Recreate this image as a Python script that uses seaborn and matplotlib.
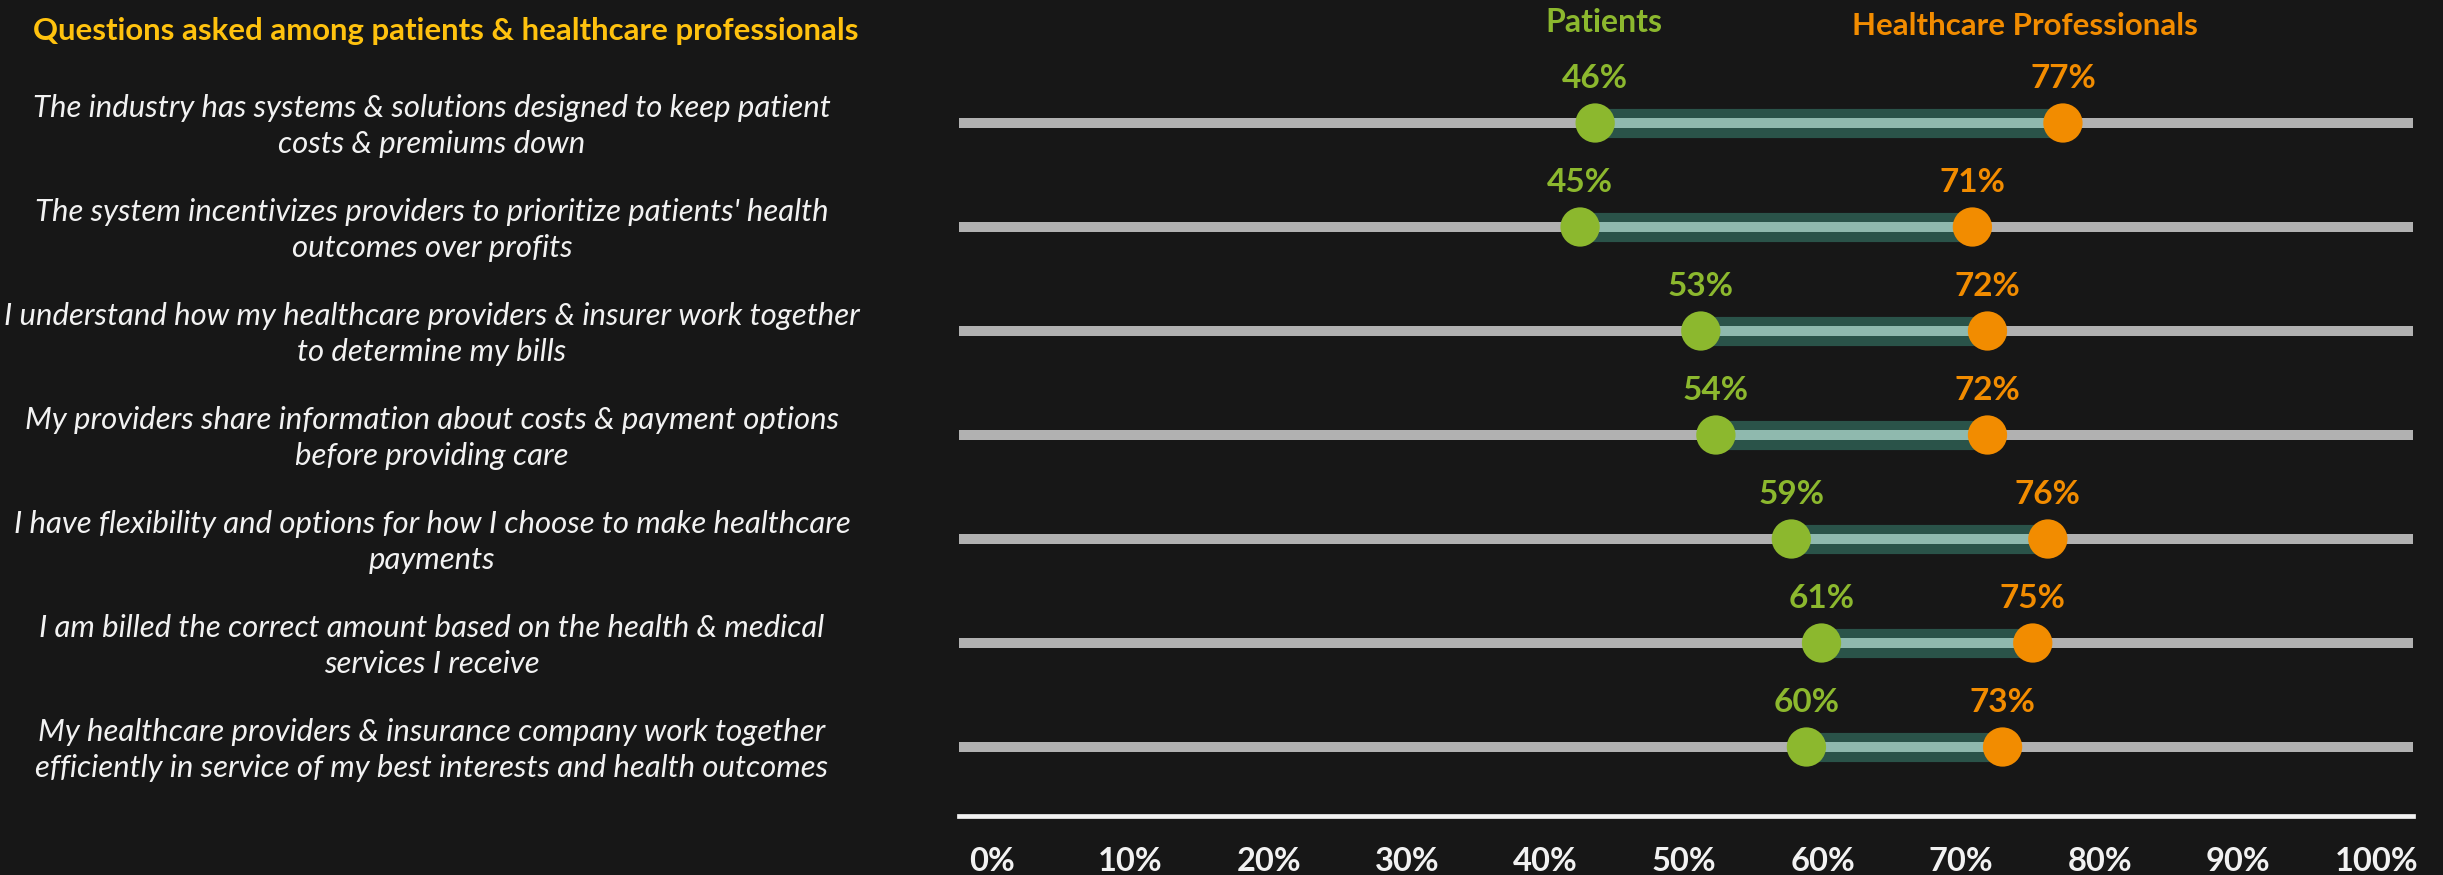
import matplotlib
matplotlib.use("Agg")
import matplotlib.pyplot as plt
import matplotlib.transforms as mtransforms
import numpy as np
import pandas as pd
import seaborn as sns

# ---- data -------------------------------------------------------------
questions = [
    "The industry has systems & solutions designed to keep patient\ncosts & premiums down",
    "The system incentivizes providers to prioritize patients' health\noutcomes over profits",
    "I understand how my healthcare providers & insurer work together\nto determine my bills",
    "My providers share information about costs & payment options\nbefore providing care",
    "I have flexibility and options for how I choose to make healthcare\npayments",
    "I am billed the correct amount based on the health & medical\nservices I receive",
    "My healthcare providers & insurance company work together\nefficiently in service of my best interests and health outcomes",
]
patients = [46, 45, 53, 54, 59, 61, 60]
professionals = [77, 71, 72, 72, 76, 75, 73]
tick_values = [0, 10, 20, 30, 40, 50, 60, 70, 80, 90, 100]

group_names = ["Patients", "Healthcare Professionals"]
title = "Questions asked among patients & healthcare professionals"

# ---- style ------------------------------------------------------------
BG = "#171717"
GREEN = "#8CB82E"
ORANGE = "#F28C00"
BAND_DARK = "#2A5349"
BAND_LIGHT = "#8FB9AE"
GREY = "#B1B1B1"
YELLOW = "#FFC20E"
WHITE = "#F2F2F2"

sns.set_theme(style="dark")
plt.rcParams["font.family"] = ["Lato", "DejaVu Sans"]

W, H = 2443, 875
fig = plt.figure(figsize=(W / 100, H / 100), dpi=100, facecolor=BG)

# plot area: left/right edges of the grey rails, bottom at the axis rule
ax_left, ax_right, ax_bottom = 959, 2413, 816
ax = fig.add_axes([ax_left / W, 1 - ax_bottom / H, (ax_right - ax_left) / W, ax_bottom / H])
ax.set_facecolor(BG)

n = len(questions)
rows = np.arange(n)
row_top_px, row_step_px = 123, 104
ax.set_ylim((ax_bottom - row_top_px) / row_step_px, -row_top_px / row_step_px)
ax.set_xlim(3.84, 100.2)

# long-form frame for seaborn
df = pd.DataFrame({
    "row": np.concatenate([rows, rows]),
    "value": patients + professionals,
    "group": [group_names[0]] * n + [group_names[1]] * n,
})

# grey rails
for r in rows:
    ax.axhline(r, color=GREY, lw=7.2, zorder=1, solid_capstyle="butt")

# gap bands between the two groups
ax.hlines(rows, patients, professionals, color=BAND_DARK, lw=21, zorder=2, capstyle="butt")
ax.hlines(rows, patients, professionals, color=BAND_LIGHT, lw=7.2, zorder=3, capstyle="butt")

sns.scatterplot(data=df, x="value", y="row", hue="group",
                palette={group_names[0]: GREEN, group_names[1]: ORANGE},
                s=800, linewidth=0, legend=False, zorder=4, ax=ax)

# value labels above the dots
for r, p, h in zip(rows, patients, professionals):
    ax.text(p, r - 0.43, f"{p}%", color=GREEN, fontsize=24, fontweight="bold",
            ha="center", va="center", zorder=5)
    ax.text(h, r - 0.43, f"{h}%", color=ORANGE, fontsize=24, fontweight="bold",
            ha="center", va="center", zorder=5)

# group headers
ax.text(46.6, -0.97, group_names[0], color=GREEN, fontsize=23, fontweight="bold",
        ha="center", va="center")
ax.text(74.5, -0.93, group_names[1], color=ORANGE, fontsize=22.5, fontweight="bold",
        ha="center", va="center")

# axes cosmetics
ax.set_xlabel("")
ax.set_ylabel("")
ax.set_yticks([])
ax.set_xticks([])
for side in ["top", "left", "right"]:
    ax.spines[side].set_visible(False)
ax.spines["bottom"].set_color(WHITE)
ax.spines["bottom"].set_linewidth(3.4)
ax.grid(False)

# percentage scale shown beneath the rule
X0, K = 6.0, 0.918
sec = ax.secondary_xaxis("bottom", functions=(lambda x: (x - X0) / K, lambda t: X0 + K * t))
sec.set_xticks(tick_values)
sec.set_xticklabels([f"{t}%" for t in tick_values])
sec.tick_params(length=0, pad=22, labelsize=23.5, colors=WHITE)
for lab in sec.get_xticklabels():
    lab.set_fontweight("bold")
sec.spines["bottom"].set_visible(False)

# question labels on the left
trans = mtransforms.blended_transform_factory(fig.transFigure, ax.transData)
for r, q in zip(rows, questions):
    ax.text(432 / W, r + 0.03, q, transform=trans, color=WHITE, fontsize=22.4,
            fontstyle="italic", fontweight="normal", ha="center", va="center",
            linespacing=1.33)

fig.text(446 / W, 1 - 31 / H, title, color=YELLOW, fontsize=22.4, fontweight="bold",
         ha="center", va="center")

fig.savefig("out.png", dpi=100, facecolor=BG)
